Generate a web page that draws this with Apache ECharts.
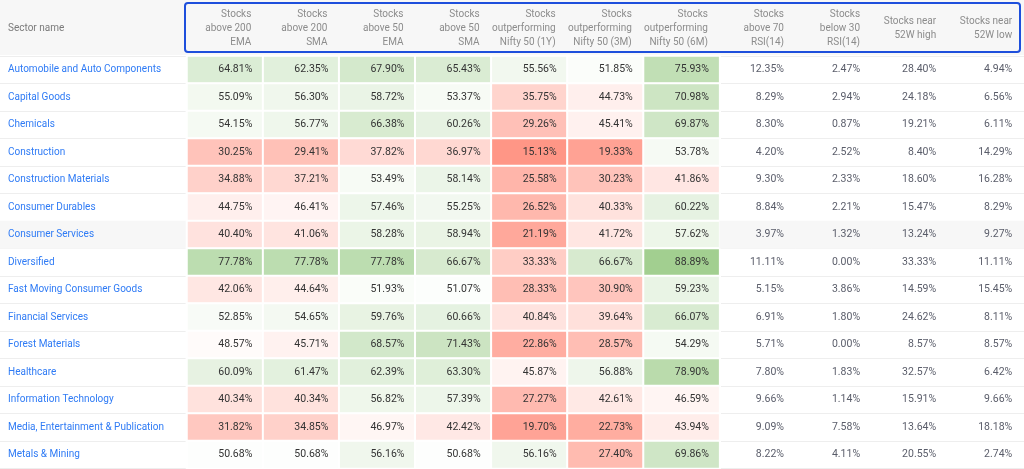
<!DOCTYPE html>
<html>
<head>
<meta charset="utf-8">
<script src="https://cdn.jsdelivr.net/npm/echarts@6/dist/echarts.min.js"></script>
<style>
html,body{margin:0;padding:0;background:#fff;}
#chart{width:1024px;height:469px;}
</style>
</head>
<body>
<div id="chart"></div>
<script>
const sectors = [
  'Automobile and Auto Components','Capital Goods','Chemicals','Construction',
  'Construction Materials','Consumer Durables','Consumer Services','Diversified',
  'Fast Moving Consumer Goods','Financial Services','Forest Materials','Healthcare',
  'Information Technology','Media, Entertainment & Publication','Metals & Mining'
];
const metricHeaders = [
  'Stocks\nabove 200\nEMA','Stocks\nabove 200\nSMA','Stocks\nabove 50\nEMA','Stocks\nabove 50\nSMA',
  'Stocks\noutperforming\nNifty 50 (1Y)','Stocks\noutperforming\nNifty 50 (3M)','Stocks\noutperforming\nNifty 50 (6M)',
  'Stocks\nabove 70\nRSI(14)','Stocks\nbelow 30\nRSI(14)','Stocks near\n52W high','Stocks near\n52W low'
];
const above200EMA = [64.81,55.09,54.15,30.25,34.88,44.75,40.40,77.78,42.06,52.85,48.57,60.09,40.34,31.82,50.68];
const above200SMA = [62.35,56.30,56.77,29.41,37.21,46.41,41.06,77.78,44.64,54.65,45.71,61.47,40.34,34.85,50.68];
const above50EMA  = [67.90,58.72,66.38,37.82,53.49,57.46,58.28,77.78,51.93,59.76,68.57,62.39,56.82,46.97,56.16];
const above50SMA  = [65.43,53.37,60.26,36.97,58.14,55.25,58.94,66.67,51.07,60.66,71.43,63.30,57.39,42.42,50.68];
const outperf1Y   = [55.56,35.75,29.26,15.13,25.58,26.52,21.19,33.33,28.33,40.84,22.86,45.87,27.27,19.70,56.16];
const outperf3M   = [51.85,44.73,45.41,19.33,30.23,40.33,41.72,66.67,30.90,39.64,28.57,56.88,42.61,22.73,27.40];
const outperf6M   = [75.93,70.98,69.87,53.78,41.86,60.22,57.62,88.89,59.23,66.07,54.29,78.90,46.59,43.94,69.86];
const aboveRSI70  = [12.35,8.29,8.30,4.20,9.30,8.84,3.97,11.11,5.15,6.91,5.71,7.80,9.66,9.09,8.22];
const belowRSI30  = [2.47,2.94,0.87,2.52,2.33,2.21,1.32,0.00,3.86,1.80,0.00,1.83,1.14,7.58,4.11];
const near52WHigh = [28.40,24.18,19.21,8.40,18.60,15.47,13.24,33.33,14.59,24.62,8.57,32.57,15.91,13.64,20.55];
const near52WLow  = [4.94,6.56,6.11,14.29,16.28,8.29,9.27,11.11,15.45,8.11,8.57,6.42,9.66,18.18,2.74];

const heatColumns = [above200EMA, above200SMA, above50EMA, above50SMA, outperf1Y, outperf3M, outperf6M];
const plainColumns = [aboveRSI70, belowRSI30, near52WHigh, near52WLow];
const hoveredSector = 'Consumer Services';

const FONT = 'Roboto';
const xCats = metricHeaders.map((h, i) => 'c' + i);

const heatData = [];
heatColumns.forEach((col, ci) => col.forEach((v, ri) => heatData.push([ci, ri, v])));
const plainData = [];
plainColumns.forEach((col, ci) => col.forEach((v, ri) => plainData.push({
  value: [ci + heatColumns.length, ri, v],
  itemStyle: { color: sectors[ri] === hoveredSector ? '#F7F7F7' : 'rgba(0,0,0,0)' }
})));
const headerData = metricHeaders.map((h, i) => [i, 0, 0]);
const nameData = sectors.map((s, i) => ({
  value: [0, i, 0],
  itemStyle: { color: s === hoveredSector ? '#F7F7F7' : 'rgba(0,0,0,0)' }
}));

const chart = echarts.init(document.getElementById('chart'), null, { renderer: 'canvas' });
chart.setOption({
  animation: false,
  backgroundColor: '#ffffff',
  textStyle: { fontFamily: FONT },
  graphic: [
    { type: 'rect', z: -10, shape: { x: 0, y: 0, width: 1024, height: 55 }, style: { fill: '#F7F7F7' } },
    { type: 'rect', z: 100, shape: { x: 185, y: 3, width: 835, height: 49, r: 3 },
      style: { fill: 'none', stroke: '#1E4FDC', lineWidth: 2 } },
    { type: 'text', z: 100, left: 8, top: 23,
      style: { text: 'Sector name', fill: '#7a7a7a', font: '10px ' + FONT } }
  ],
  grid: [
    { left: 187, right: 0, top: 56, bottom: 0.5 },
    { left: 187, right: 0, top: 1, height: 55 },
    { left: 0, width: 187, top: 56, bottom: 0.5 }
  ],
  xAxis: [
    { type: 'category', gridIndex: 0, data: xCats, show: false },
    { type: 'category', gridIndex: 1, data: xCats, show: false },
    { type: 'category', gridIndex: 2, data: ['n'], show: false }
  ],
  yAxis: [
    { type: 'category', gridIndex: 0, data: sectors, inverse: true,
      axisLine: { show: false }, axisTick: { show: false }, axisLabel: { show: false },
      splitLine: { show: true, lineStyle: { color: '#EEEEEE', width: 1 } } },
    { type: 'category', gridIndex: 1, data: ['h'], show: false },
    { type: 'category', gridIndex: 2, data: sectors, inverse: true,
      axisLine: { show: false }, axisTick: { show: false },
      axisLabel: { inside: true, margin: 8, color: '#2F7BF5', fontSize: 10, fontFamily: FONT },
      splitLine: { show: true, lineStyle: { color: '#EEEEEE', width: 1 } } }
  ],
  visualMap: {
    type: 'continuous', show: false, seriesIndex: 0, dimension: 2,
    min: 0, max: 100,
    inRange: { color: ['#FF6851', '#FFFFFF', '#87C170'] }
  },
  series: [
    {
      type: 'heatmap', xAxisIndex: 0, yAxisIndex: 0, data: heatData,
      itemStyle: { borderColor: '#ffffff', borderWidth: 2 },
      label: { show: true, position: 'insideRight', distance: 12, color: '#333333',
        fontSize: 10.5, fontFamily: FONT, formatter: p => p.data[2].toFixed(2) + '%' },
      emphasis: { disabled: true }
    },
    {
      type: 'heatmap', xAxisIndex: 0, yAxisIndex: 0, data: plainData,
      label: { show: true, position: 'insideRight', distance: 12, color: '#5a5d6a',
        fontSize: 10.5, fontFamily: FONT, formatter: p => p.data.value[2].toFixed(2) + '%' },
      emphasis: { disabled: true }
    },
    {
      type: 'heatmap', xAxisIndex: 1, yAxisIndex: 1, data: headerData,
      itemStyle: { color: 'rgba(0,0,0,0)' },
      label: { show: true, position: 'insideRight', distance: 12, color: '#8c8c8c',
        fontSize: 10, lineHeight: 14, fontFamily: FONT, align: 'right',
        formatter: p => metricHeaders[p.data[0]] },
      emphasis: { disabled: true }
    },
    {
      type: 'heatmap', xAxisIndex: 2, yAxisIndex: 2, data: nameData, z: 0,
      label: { show: false },
      emphasis: { disabled: true }
    }
  ]
});
</script>
</body>
</html>
